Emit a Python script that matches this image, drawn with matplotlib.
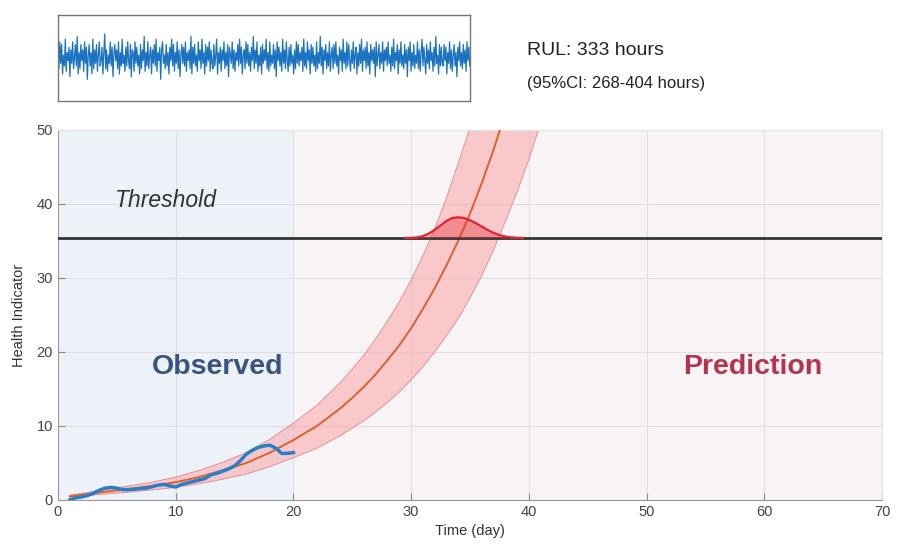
import numpy as np
import matplotlib.pyplot as plt

plt.rcParams['font.family'] = ['Liberation Sans', 'DejaVu Sans']

# vibration snapshot shown in the small box (scaled units)
signal = [
    3, -4, 6, -2, 5, -6, 1, -3, 7, -5, 2, -1, 4, -7, 3, -2, 6, -4, 0, 5, -3, 8, -6, 2, -4, 5, -1, 3, -5, 6,
    -2, 4, -8, 1, 5, -3, 2, -6, 7, -4, 3, -2, 5, -5, 1, 6, -3, -1, 4, -6, 2, 9, -4, 3, -5, 1, -2, 6, -3, 4,
    -7, 2, 5, -1, 3, -4, 6, -6, 2, -3, 7, -2, 1, -5, 4, -3, 6, -1, -4, 5, -7, 3, 2, -5, 6, -2, 4, -3, 1, -6,
    5, -4, 3, -1, 8, -5, 2, -3, 6, -4, 1, 4, -6, 3, -2, 5, -3, 7, -5, 2, -1, 4, -8, 3, 6, -2, 1, -4, 5, -3,
    2, -6, 4, -1, 7, -3, 5, -5, 2, -2, 6, -4, 3, -7, 1, 5, -2, 4, -3, 6, -5, 2, -1, 3, -4, 8, -6, 4, -2, 5,
    -3, 1, -5, 6, -1, 3, -4, 7, -2, 2, -6, 5, -3, 4, -1, 6, -5, 3, -2, -4, 5, -3, 1, 7, -6, 2, -2, 4, -5, 3,
    -1, 6, -4, 2, -3, 5, -7, 4, 1, -2, 6, -4, 3, -5, 2, -1, 5, -3, 7, -2, 4, -6, 1, 3, -4, 6, -2, 5, -3, 2,
    -5, 4, -1, 8, -4, 3, -2, 6, -5, 1, -3, 4, -6, 5, -2, 3, -1, 7, -4, 2, -5, 6, -3, 1, -2, 5, -4, 3, -7, 6,
    -1, 4, -3, 2, -5, 7, -2, 3, -4, 6, -1, -5, 4, -3, 5, -2, 1, -6, 3, -4, 6, -2, 5, -3, 2, -1, 4, -5, 7, -3,
    2, -4, 6, -1, 3, -6, 5, -2, 4, -3, 1, -5, 6, -4, 2, -2, 8, -3, 4, -6, 3, -1, 5, -4, 2, -3, 6, -5, 1, 4,
    -4, 5, -2, 6, -3, 1, -6, 4, -1, 3, -5, 7, -2, 2, -4, 6, -3, 5, -1, -5, 3, -2, 6, -4, 1, 4, -6, 2, -3, 5,
    -2, 7, -5, 3, -1, 4, -4, 6, -3, 2, -6, 5, -1, 3, -2, 4, -7, 6, -3, 1, 5, -4, 2, -2, 6, -5, 3, -1, 4, -3,
    6, -2, 1, -5, 4, -3, 7, -4, 2, -1, 5, -6, 3, -2, 6, -3, 1, -4, 5, -2, 3, -7, 4, -1, 6, -5, 2, -3, 5, -4,
    1, -2, 6, -4, 3, -5, 2, 7, -3, 4, -1, -6, 5, -2, 3, -4, 6, -1, 2, -5, 4, -3, 8, -2, 1, -6, 5, -3, 4, -2,
    -3, 5, -1, 4, -6, 2, -2, 6, -4, 3, -5, 1, 5, -3, 2, -7, 4, -1, 6, -3, 2, -4, 5, -2, 3, -5, 6, -1, 4, -3,
]

# observed health indicator
obs_t = [1, 1.5, 2, 2.5, 3, 3.5, 4, 4.5, 5, 5.5, 6, 6.5, 7, 7.5, 8, 8.5, 9, 9.5, 10, 10.5,
         11, 11.5, 12, 12.5, 13, 13.5, 14, 14.5, 15, 15.5, 16, 16.5, 17, 17.5, 18, 18.5, 19, 19.5, 20]
obs_hi = [0.0, 0.3, 0.4, 0.6, 0.9, 1.3, 1.6, 1.7, 1.6, 1.4, 1.4, 1.45, 1.55, 1.6, 1.8, 2.0, 2.1, 1.9, 1.75, 2.1,
          2.3, 2.5, 2.7, 2.9, 3.4, 3.6, 3.9, 4.2, 4.6, 5.3, 6.2, 6.7, 7.1, 7.3, 7.4, 7.0, 6.3, 6.3, 6.4]

# predicted trajectory and 95% band
pred_t = [1, 2, 4, 6, 8, 10, 12, 14, 16, 18, 20, 22, 24, 25, 26, 27, 28, 29, 30, 31, 32,
          33, 34, 35, 36, 37, 38, 39, 40, 41, 42]
pred_mid = [0.5, 0.7, 1.1, 1.5, 1.9, 2.4, 3.1, 4.0, 5.0, 6.4, 8.1, 10.0, 12.4, 13.8, 15.3, 17.0, 18.9,
            20.9, 23.2, 25.8, 28.6, 31.7, 35.0, 38.7, 42.8, 47.3, 52.3, 57.9, 64.0, 70.8, 78.2]
pred_up = [0.65, 0.9, 1.4, 1.9, 2.4, 3.1, 4.0, 5.1, 6.4, 8.2, 10.4, 12.8, 15.9, 17.7, 19.6, 21.8, 24.2,
           26.8, 29.7, 33.0, 36.6, 40.8, 45.5, 50.3, 55.6, 61.5, 68.0, 75.2, 83.1, 91.9, 101.6]
pred_lo = [0.35, 0.5, 0.8, 1.05, 1.35, 1.7, 2.2, 2.8, 3.5, 4.5, 5.7, 7.0, 8.7, 9.7, 10.7, 11.9, 13.2,
           14.6, 16.2, 18.0, 20.0, 22.2, 24.5, 27.3, 30.3, 33.8, 37.6, 41.6, 46.0, 50.9, 56.3]

threshold = 35.4

# RUL distribution drawn on the threshold
rul_t = [29.5, 30, 30.5, 31, 31.5, 32, 32.5, 33, 33.5, 34, 34.5, 35, 35.5, 36, 36.5, 37, 37.5, 38, 38.5, 39, 39.5]
rul_pdf = [0.0, 0.02, 0.08, 0.25, 0.6, 1.1, 1.7, 2.3, 2.7, 2.8, 2.7, 2.4, 2.0, 1.55, 1.1, 0.7, 0.4, 0.2, 0.08, 0.03, 0.0]

fig = plt.figure(figsize=(9.03, 5.49), dpi=100)

# small signal box
ax0 = fig.add_axes([0.0642, 0.816, 0.456, 0.157])
ax0.plot(np.arange(len(signal)), np.array(signal) * 0.062, color='#1a72c0', lw=0.9)
ax0.set_xlim(0, len(signal) - 1)
ax0.set_ylim(-1, 1)
ax0.set_xticks([])
ax0.set_yticks([])
for s in ax0.spines.values():
    s.set_color('#777777')
    s.set_linewidth(1.0)

fig.text(0.584, 0.908, 'RUL: 333 hours', fontsize=14, color='#222222', va='center')
fig.text(0.584, 0.848, '(95%CI: 268-404 hours)', fontsize=12, color='#222222', va='center')

# main axes
ax = fig.add_axes([0.0642, 0.0893, 0.9125, 0.674])
ax.axvspan(0, 20, color='#edf2f9', zorder=0, lw=0)
ax.axvspan(20, 70, color='#f8f4f5', zorder=0, lw=0)
ax.grid(True, color='#e0e0e4', lw=0.8, zorder=1)
ax.set_axisbelow(True)

ax.fill_between(pred_t, pred_lo, pred_up, color='#f9a5a8', alpha=0.55, lw=0, zorder=2)
ax.plot(pred_t, pred_up, color='#e06068', lw=0.6, alpha=0.7, zorder=2)
ax.plot(pred_t, pred_lo, color='#e06068', lw=0.6, alpha=0.7, zorder=2)
ax.plot(pred_t, pred_mid, color='#d9622b', lw=1.4, zorder=3)
ax.plot(obs_t, obs_hi, color='#2a7fc4', lw=2.5, zorder=4)

ax.axhline(threshold, color='#333333', lw=2, zorder=5)
bell = threshold + np.array(rul_pdf)
ax.fill_between(rul_t, threshold, bell, color='#e8333c', alpha=0.4, lw=0, zorder=5)
ax.plot(rul_t, bell, color='#e0242f', lw=1.6, zorder=6)

ax.text(4.8, 40.5, 'Threshold', fontsize=16.5, style='italic', color='#333333', va='center')
ax.text(13.6, 18, 'Observed', fontsize=20.5, fontweight='bold', color='#3b5380', ha='center', va='center')
ax.text(59.0, 18, 'Prediction', fontsize=20.5, fontweight='bold', color='#b5334f', ha='center', va='center')

ax.set_xlim(0, 70)
ax.set_ylim(0, 50)
ax.set_xticks(range(0, 71, 10))
ax.set_yticks(range(0, 51, 10))
ax.tick_params(direction='in', length=5, colors='#888888', labelcolor='#444444', labelsize=10.5)
ax.set_xlabel('Time (day)', fontsize=10.5, color='#333333', labelpad=4)
ax.set_ylabel('Health Indicator', fontsize=10.5, color='#333333', labelpad=8)
for name, s in ax.spines.items():
    s.set_color('#999999' if name in ('left', 'bottom') else '#e4e4e4')

fig.savefig('out.png', dpi=100)
